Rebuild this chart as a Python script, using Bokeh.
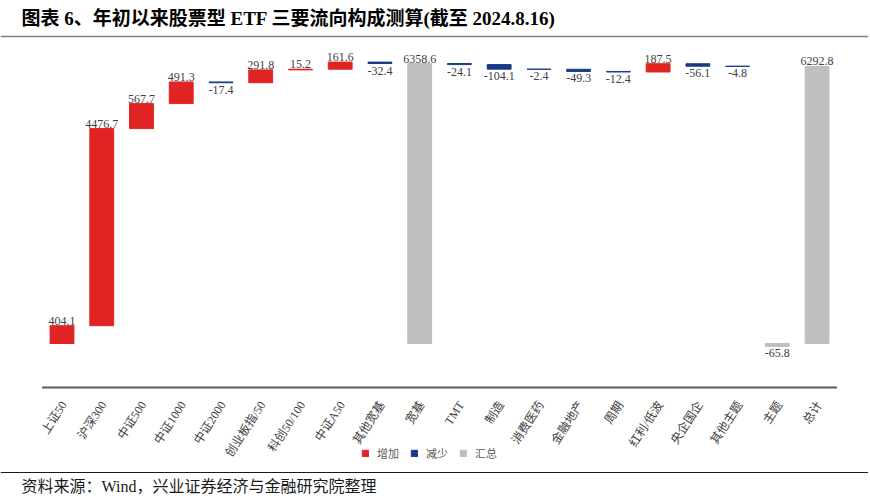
import math
from bokeh.plotting import figure
from bokeh.models import ColumnDataSource, Range1d, Span, Label
from bokeh.core.properties import value
from bokeh.embed import file_html
from bokeh.resources import INLINE

# ---------------- data ----------------
categories = ["上证50", "沪深300", "中证500", "中证1000", "中证2000", "创业板指/50",
              "科创50/100", "中证A50", "其他宽基", "宽基", "TMT", "制造", "消费医药",
              "金融地产", "周期", "红利/低波", "央企国企", "其他主题", "主题", "总计"]
values = [404.1, 4476.7, 567.7, 491.3, -17.4, 291.8, 15.2, 161.6, -32.4, 6358.6,
          -24.1, -104.1, -2.4, -49.3, -12.4, 187.5, -56.1, -4.8, -65.8, 6292.8]
is_total = [False] * 9 + [True] + [False] * 8 + [True, True]
legend_names = ["增加", "减少", "汇总"]

title_text = "图表 6、年初以来股票型 ETF 三要流向构成测算(截至 2024.8.16)"
source_text = "资料来源：Wind，兴业证券经济与金融研究院整理"

# ---------------- styles ----------------
COL_INC = "#E02424"
COL_DEC = "#1B3A86"
COL_TOT = "#BFBFBF"
SERIF = "Liberation Serif, Noto Sans CJK SC"
AXIS_Y = -1000

# ---------------- waterfall geometry ----------------
bottoms, tops, colors, kinds = [], [], [], []
running = 0.0
for v, t in zip(values, is_total):
    if t:
        b, e = 0.0, v
        kinds.append(legend_names[2]); colors.append(COL_TOT)
    else:
        b, e = running, running + v
        running += v
        if v >= 0:
            kinds.append(legend_names[0]); colors.append(COL_INC)
        else:
            kinds.append(legend_names[1]); colors.append(COL_DEC)
    bottoms.append(b); tops.append(e)

xs = list(range(len(categories)))
src = ColumnDataSource(dict(x=xs, bottom=bottoms, top=tops, color=colors, kind=kinds))

pos_idx = [i for i, v in enumerate(values) if v >= 0]
neg_idx = [i for i, v in enumerate(values) if v < 0]
pos_src = ColumnDataSource(dict(x=[xs[i] for i in pos_idx],
                                y=[max(bottoms[i], tops[i]) for i in pos_idx],
                                t=[f"{values[i]:.1f}" for i in pos_idx]))
neg_src = ColumnDataSource(dict(x=[xs[i] for i in neg_idx],
                                y=[min(bottoms[i], tops[i]) for i in neg_idx],
                                t=[f"{values[i]:.1f}" for i in neg_idx]))
cat_src = ColumnDataSource(dict(x=xs, y=[AXIS_Y] * len(xs), t=categories))

# ---------------- figure ----------------
W, H = 868, 500
p = figure(width=W, height=H,
           x_range=Range1d(-1.5476, 20.294), y_range=Range1d(-3566, 7790),
           output_backend="svg", toolbar_location=None,
           x_axis_location=None, y_axis_location=None,
           min_border=0)
p.grid.visible = False
p.outline_line_color = None
p.background_fill_color = "white"
p.border_fill_color = "white"

p.vbar(x="x", bottom="bottom", top="top", width=0.6, source=src,
       fill_color="color", line_color="color", line_width=1, legend_field="kind")

# data labels
p.text(x="x", y="y", text="t", source=pos_src, text_align="center", text_baseline="bottom",
       y_offset=-1, text_font=value("Liberation Serif"), text_font_size="12px", text_color="#404040")
p.text(x="x", y="y", text="t", source=neg_src, text_align="center", text_baseline="top",
       y_offset=3, text_font=value("Liberation Serif"), text_font_size="12px", text_color="#404040")

# category axis line and labels
p.segment(x0=[-0.5], y0=[AXIS_Y], x1=[len(categories) - 0.5], y1=[AXIS_Y],
          line_color="#595959", line_width=2.2)
p.text(x="x", y="y", text="t", source=cat_src, angle=math.radians(57),
       text_align="right", text_baseline="middle", x_offset=2, y_offset=15,
       text_font=value(SERIF), text_font_size="12px", text_color="#404040")

# separator lines
p.add_layout(Span(location=6973, dimension="width", line_color="#7F7F7F", line_width=1.6))
p.add_layout(Span(location=-2930, dimension="width", line_color="#1A1A1A", line_width=1.2))

# title and source (inside the full-canvas frame, screen units from bottom-left)
p.add_layout(Label(x=21, y=H - 18, x_units="screen", y_units="screen", text=title_text,
                   text_font=SERIF, text_font_size="19px", text_font_style="bold",
                   text_color="#000000", text_baseline="alphabetic"))
p.add_layout(Label(x=21, y=H - 486, x_units="screen", y_units="screen", text=source_text,
                   text_font=SERIF, text_font_size="16px",
                   text_color="#1A1A1A", text_baseline="alphabetic"))

# legend
lg = p.legend[0]
lg.location = (361, 39)
lg.orientation = "horizontal"
lg.glyph_width = 8
lg.glyph_height = 8
lg.label_height = 12
lg.label_width = 20
lg.label_standoff = 8
lg.spacing = 11
lg.padding = 0
lg.margin = 0
lg.border_line_color = None
lg.background_fill_alpha = 0
lg.label_text_font = SERIF
lg.label_text_font_size = "11px"
lg.label_text_color = "#595959"

open("out.html", "w").write(file_html(p, INLINE))
